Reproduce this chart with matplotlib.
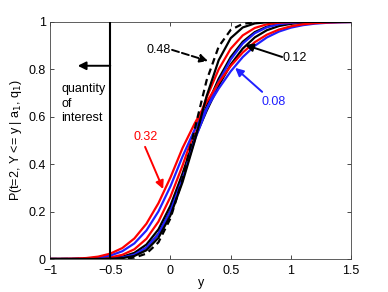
import matplotlib

matplotlib.use("Agg")
import matplotlib.pyplot as plt

plt.rcParams["font.family"] = ["Liberation Sans", "DejaVu Sans"]

# ---- data ------------------------------------------------------------------
y_grid = [-1.0, -0.9, -0.8, -0.7, -0.6, -0.5, -0.4, -0.3, -0.2, -0.1, 0.0,
          0.1, 0.2, 0.3, 0.4, 0.5, 0.6, 0.7, 0.8, 0.9, 1.0, 1.1, 1.2, 1.3,
          1.4, 1.5]

p_dash_048 = [0, 0, 0, 0, 0, 0.0002, 0.0011, 0.0058, 0.0228, 0.0703, 0.1718,
              0.3369, 0.5455, 0.7536, 0.8956, 0.9663, 0.9918, 0.9985, 0.9998,
              1, 1, 1, 1, 1, 1, 1]
p_black_a = [0, 0, 0, 0, 0.0002, 0.0009, 0.0037, 0.0128, 0.0368, 0.0895,
             0.1841, 0.3243, 0.4956, 0.6871, 0.8383, 0.9316, 0.9766, 0.9936,
             0.9986, 0.9998, 1, 1, 1, 1, 1, 1]
p_red_a = [0, 0, 0.0002, 0.0007, 0.0022, 0.0067, 0.0176, 0.0410, 0.0852,
           0.1577, 0.2624, 0.3943, 0.5398, 0.6808, 0.7998, 0.8871, 0.9431,
           0.9745, 0.9899, 0.9965, 0.9989, 0.9997, 1, 1, 1, 1]
p_blue_a = [0, 0, 0, 0.0001, 0.0004, 0.0018, 0.0062, 0.0186, 0.0478, 0.1056,
            0.2023, 0.3385, 0.5, 0.6306, 0.7477, 0.8413, 0.9088, 0.9522,
            0.9772, 0.9902, 0.9962, 0.9987, 0.9996, 0.9999, 1, 1]
p_black_b = [0, 0, 0, 0.0002, 0.0009, 0.0031, 0.0096, 0.0259, 0.0608, 0.1249,
             0.2254, 0.3605, 0.5134, 0.6443, 0.7602, 0.8517, 0.9162, 0.9570,
             0.9800, 0.9916, 0.9968, 0.9989, 0.9997, 1, 1, 1]
p_black_012 = [0, 0, 0, 0.0001, 0.0004, 0.0016, 0.0058, 0.0179, 0.0471,
               0.1058, 0.2052, 0.3453, 0.5077, 0.6248, 0.7311, 0.8199, 0.8875,
               0.9347, 0.9649, 0.9825, 0.9920, 0.9966, 0.9987, 0.9995, 0.9998,
               1]
p_blue_008 = [0.0001, 0.0002, 0.0007, 0.0022, 0.0060, 0.0147, 0.0327, 0.0658,
              0.1202, 0.2007, 0.3068, 0.4321, 0.5454, 0.6355, 0.7187, 0.7915,
              0.8518, 0.8992, 0.9344, 0.9592, 0.9758, 0.9863, 0.9927, 0.9962,
              0.9982, 0.9991]
p_red_032 = [0.0002, 0.0005, 0.0015, 0.0041, 0.0101, 0.0226, 0.0462, 0.0866,
             0.1487, 0.2354, 0.3442, 0.4681, 0.5710, 0.6616, 0.7437, 0.8140,
             0.8710, 0.9145, 0.9460, 0.9675, 0.9814, 0.9899, 0.9948, 0.9974,
             0.9988, 0.9995]

x_ticks = [-1, -0.5, 0, 0.5, 1, 1.5]
x_ticklabels = ["\u22121", "\u22120.5", "0", "0.5", "1", "1.5"]
y_ticks = [0, 0.2, 0.4, 0.6, 0.8, 1]
y_ticklabels = ["0", "0.2", "0.4", "0.6", "0.8", "1"]

RED = "#ff0000"
BLUE = "#2020ff"
FS = 9

fig = plt.figure(figsize=(3.88, 2.92), dpi=100)
ax = fig.add_axes([0.129, 0.113, 0.776, 0.812])

ax.plot(y_grid, p_black_012, color="k", lw=1.6, zorder=3)
ax.plot(y_grid, p_black_b, color="k", lw=1.6, zorder=3)
ax.plot(y_grid, p_blue_a, color=BLUE, lw=1.6, zorder=3)
ax.plot(y_grid, p_red_a, color=RED, lw=1.6, zorder=3)
ax.plot(y_grid, p_blue_008, color=BLUE, lw=1.6, zorder=3)
ax.plot(y_grid, p_red_032, color=RED, lw=1.6, zorder=3)
ax.plot(y_grid, p_black_a, color="k", lw=1.6, zorder=3)
ax.plot(y_grid, p_dash_048, color="k", lw=1.6, ls=(0, (3, 2)), zorder=3)

# quantity of interest
ax.plot([-0.5, -0.5], [0, 1], color="k", lw=1.5, zorder=4)
ax.annotate("", xy=(-0.77, 0.815), xytext=(-0.5, 0.815),
            arrowprops=dict(arrowstyle="-|>", color="k", lw=1.4,
                            mutation_scale=12, shrinkA=0, shrinkB=0))
ax.text(-0.905, 0.655, "quantity\nof\ninterest", fontsize=FS, ha="left",
        va="center", linespacing=1.3)

arrow = dict(arrowstyle="-|>", lw=1.4, mutation_scale=12, shrinkA=0, shrinkB=0)
ax.text(-0.099, 0.882, "0.48", fontsize=FS, ha="center", va="center")
ax.annotate("", xy=(0.312, 0.835), xytext=(0.013, 0.882),
            arrowprops=dict(arrow, color="k", ls="--"))
ax.text(1.031, 0.848, "0.12", fontsize=FS, ha="center", va="center")
ax.annotate("", xy=(0.62, 0.903), xytext=(0.927, 0.852),
            arrowprops=dict(arrow, color="k"))
ax.text(0.86, 0.662, "0.08", fontsize=FS, ha="center", va="center", color=BLUE)
ax.annotate("", xy=(0.537, 0.806), xytext=(0.761, 0.705),
            arrowprops=dict(arrow, color=BLUE))
ax.text(-0.203, 0.515, "0.32", fontsize=FS, ha="center", va="center", color=RED)
ax.annotate("", xy=(-0.061, 0.295), xytext=(-0.211, 0.473),
            arrowprops=dict(arrow, color=RED))

ax.set_xlim(-1, 1.5)
ax.set_ylim(0, 1)
ax.set_xticks(x_ticks)
ax.set_xticklabels(x_ticklabels)
ax.set_yticks(y_ticks)
ax.set_yticklabels(y_ticklabels)
ax.tick_params(direction="in", length=3, width=0.5, labelsize=FS,
               top=True, right=True)
ax.tick_params(axis="x", pad=4)
ax.tick_params(axis="y", pad=3)
for sp in ax.spines.values():
    sp.set_linewidth(0.6)
    sp.set_color("#444444")
ax.set_xlabel("y", fontsize=FS, labelpad=0)
ax.set_ylabel("P(t=2, Y <= y | a$_1$, q$_1$)", fontsize=FS, labelpad=3)

fig.savefig("out.png", dpi=100, facecolor="white")
